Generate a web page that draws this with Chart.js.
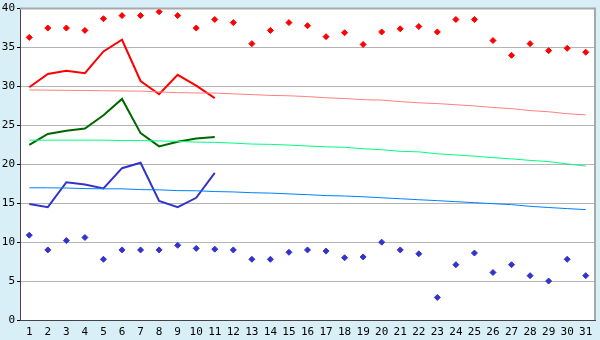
<!DOCTYPE html>
<html>
<head>
    <meta charset="utf-8">
    <script src="https://cdn.jsdelivr.net/npm/chart.js@4.4.0/dist/chart.umd.min.js"></script>
    <style>
        html, body { margin: 0; padding: 0; background: #d9eff7; overflow: hidden; }
        canvas { display: block; }
    </style>
</head>
<body>
    <canvas id="tempChart" width="600" height="340"></canvas>

    <script>
        const days = [];
        for (let d = 1; d <= 31; d++) days.push(String(d));

        // record highs / lows (markers)
        const recordMax = [36.3, 37.5, 37.5, 37.2, 38.7, 39.1, 39.1, 39.6, 39.1, 37.5, 38.6, 38.2, 35.5, 37.2, 38.2,
            37.8, 36.4, 36.9, 35.4, 37.0, 37.4, 37.7, 37.0, 38.6, 38.6, 35.9, 34.0, 35.5, 34.6, 34.9, 34.4];
        const recordMin = [10.9, 9.0, 10.2, 10.6, 7.8, 9.0, 9.0, 9.0, 9.6, 9.2, 9.1, 9.0, 7.8, 7.8, 8.7,
            9.0, 8.85, 8.0, 8.1, 10.0, 9.0, 8.5, 2.9, 7.1, 8.6, 6.1, 7.1, 5.7, 5.0, 7.8, 5.7];

        // this month so far
        const dailyMax = [29.9, 31.6, 32.0, 31.7, 34.5, 36.0, 30.7, 29.0, 31.5, 30.1, 28.5];
        const dailyMean = [22.5, 23.9, 24.3, 24.6, 26.3, 28.4, 24.0, 22.3, 22.9, 23.3, 23.5];
        const dailyMin = [14.9, 14.5, 17.7, 17.4, 16.9, 19.5, 20.2, 15.3, 14.5, 15.7, 18.9];

        // normals
        const normalMax = [29.55, 29.52, 29.5, 29.48, 29.45, 29.42, 29.4, 29.3, 29.2, 29.17, 29.15, 29.05, 28.95, 28.85, 28.8,
            28.7, 28.55, 28.45, 28.3, 28.25, 28.05, 27.9, 27.8, 27.65, 27.5, 27.3, 27.15, 26.9, 26.75, 26.5, 26.35];
        const normalMean = [23.1, 23.1, 23.1, 23.1, 23.1, 23.05, 23.05, 23.0, 22.95, 22.85, 22.82, 22.72, 22.6, 22.56, 22.47,
            22.35, 22.25, 22.18, 22.0, 21.87, 21.67, 21.6, 21.35, 21.2, 21.05, 20.85, 20.7, 20.5, 20.35, 20.05, 19.77];
        const normalMin = [16.98, 16.98, 16.95, 16.88, 16.85, 16.85, 16.75, 16.72, 16.62, 16.6, 16.5, 16.45, 16.35, 16.3, 16.2,
            16.1, 15.98, 15.93, 15.83, 15.7, 15.58, 15.45, 15.33, 15.2, 15.07, 14.94, 14.82, 14.6, 14.45, 14.31, 14.18];

        const frame = {
            id: 'frame',
            beforeDraw(chart) {
                const c = chart.ctx, a = chart.chartArea;
                c.save();
                c.fillStyle = '#d9eff7';
                c.fillRect(0, 0, chart.width, chart.height);
                c.fillStyle = '#ffffff';
                c.fillRect(a.left, a.top, a.right - a.left, a.bottom - a.top);
                c.restore();
            },
            afterDraw(chart) {
                const c = chart.ctx, a = chart.chartArea;
                c.save();
                c.strokeStyle = '#a8a8a8';
                c.lineWidth = 2;
                c.beginPath();
                c.moveTo(a.left, a.top);
                c.lineTo(a.right, a.top);
                c.lineTo(a.right, a.bottom);
                c.stroke();
                c.restore();
            }
        };

        function lineSet(data, color, width) {
            return { type: 'line', data: data, borderColor: color, borderWidth: width, pointRadius: 0, fill: false, tension: 0 };
        }
        function dotSet(data, color) {
            return { type: 'line', data: data, showLine: false, pointStyle: 'rectRot', pointRadius: 3,
                pointBackgroundColor: color, pointBorderColor: color, pointBorderWidth: 1 };
        }

        Chart.defaults.font.family = 'DejaVu Sans Mono';
        Chart.defaults.font.size = 11;
        Chart.defaults.color = '#000000';

        new Chart(document.getElementById('tempChart'), {
            type: 'line',
            data: {
                labels: days,
                datasets: [
                    lineSet(normalMax, '#ff8080', 1),
                    lineSet(normalMean, '#00ff80', 1),
                    lineSet(normalMin, '#0080ff', 1),
                    lineSet(dailyMax, '#ff0000', 2),
                    lineSet(dailyMean, '#006600', 2),
                    lineSet(dailyMin, '#3333cc', 2),
                    dotSet(recordMax, '#ff0000'),
                    dotSet(recordMin, '#3333cc')
                ]
            },
            options: {
                responsive: false,
                animation: false,
                layout: { padding: { top: 5, right: 4, left: 0, bottom: 0 } },
                plugins: { legend: { display: false }, tooltip: { enabled: false } },
                scales: {
                    x: {
                        offset: true,
                        grid: { display: false, drawTicks: true, tickLength: 5, tickColor: '#000' },
                        border: { display: true, color: '#444', width: 1 },
                        ticks: { maxRotation: 0, autoSkip: false, padding: 1 },
                        afterFit(s) { s.height = 20; }
                    },
                    y: {
                        min: 0, max: 40,
                        ticks: { stepSize: 5, padding: 2 },
                        grid: { color: '#b4b4b4', lineWidth: 1, tickLength: 3, tickColor: '#000' },
                        border: { display: true, color: '#444', width: 1 },
                        afterFit(s) { s.width = 20; }
                    }
                }
            },
            plugins: [frame]
        });
    </script>
</body>
</html>
